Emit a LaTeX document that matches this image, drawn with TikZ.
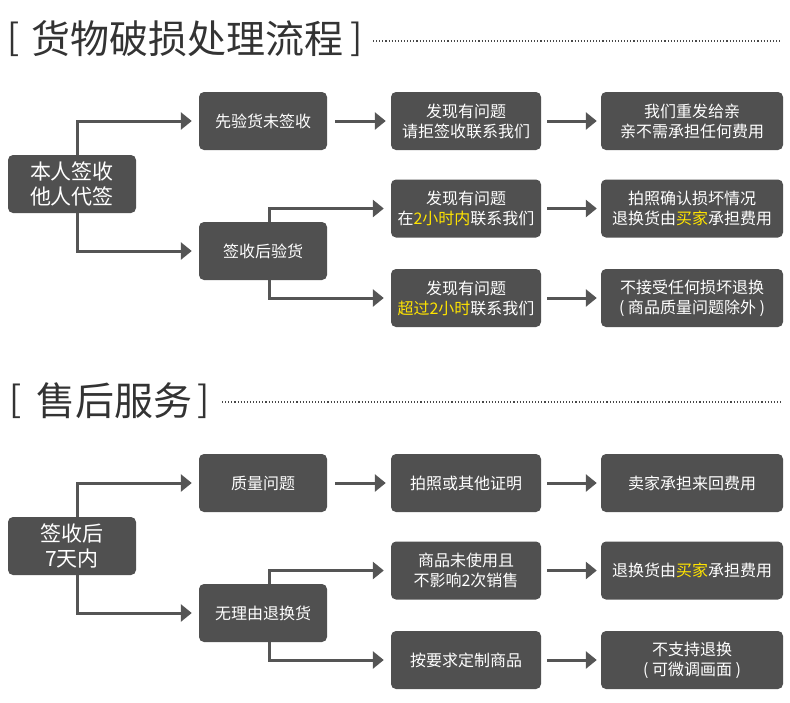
\documentclass[tikz,border=0pt]{standalone}
\usepackage{fontspec}
\setmainfont{Noto Sans CJK SC}
\usetikzlibrary{arrows.meta}
\definecolor{boxgray}{HTML}{505050}
\definecolor{linegray}{HTML}{555555}
\definecolor{hl}{HTML}{FFE400}
\definecolor{titlegray}{HTML}{333333}
\begin{document}
\begin{tikzpicture}[x=1pt,y=-1pt,
  box/.style={fill=boxgray, rounded corners=5pt, text=white, align=center,
    font=\fontsize{16}{20}\selectfont, inner sep=0pt, minimum height=58pt},
  lbox/.style={box, font=\fontsize{21}{25}\selectfont, minimum width=128pt},
  c2/.style={box, minimum width=128pt},
  c3/.style={box, minimum width=150pt},
  c4/.style={box, minimum width=182pt},
  arr/.style={draw=linegray, line width=3pt,
    -{Triangle[length=11pt,width=17pt]}},
  ttl/.style={text=titlegray, font=\fontsize{39}{44}\selectfont, inner sep=0pt},
  brk/.style={text=titlegray, font=\fontsize{36}{40}\selectfont, inner sep=0pt},
  dots/.style={draw=titlegray!90, line width=1.1pt, dash pattern=on 1.1pt off 2pt}
]
\useasboundingbox (0,0) rectangle (790,702);

% ---------- Section 1 ----------
\node[brk] (t1l) at (14,39) {[};
\node[ttl] (t1) at (187,39) {货物破损处理流程};
\node[brk] (t1r) at (357,39) {]};
\coordinate (d1s) at (373,41);
\coordinate (d1e) at (782,41);
\draw[dots] (d1s) -- (d1e);

\node[lbox] (L1) at (72,184) {本人签收\\他人代签};
\node[c2] (A1) at (263,121) {先验货未签收};
\node[c2] (B1) at (263,251) {签收后验货};
\node[c3] (A2) at (466,121) {发现有问题\\请拒签收联系我们};
\node[c3] (B2) at (466,208.5) {发现有问题\\在{\color{hl}2小时内}联系我们};
\node[c3] (C2) at (466,298) {发现有问题\\{\color{hl}超过2小时}联系我们};
\node[c4] (A3) at (692,121) {我们重发给亲\\亲不需承担任何费用};
\node[c4] (B3) at (692,208.5) {拍照确认损坏情况\\退换货由{\color{hl}买家}承担费用};
\node[c4] (C3) at (692,298) {不接受任何损坏退换\\( 商品质量问题除外 )};

\draw[arr] ([xshift=5pt]L1.north) |- ([xshift=-7pt]A1.west);
\draw[arr] ([xshift=5pt]L1.south) |- ([xshift=-7pt]B1.west);
\draw[arr] ([xshift=8pt]A1.east) -- ([xshift=-5pt]A2.west);
\draw[arr] ([xshift=6pt]B1.north) |- ([xshift=-7pt]B2.west);
\draw[arr] ([xshift=6pt]B1.south) |- ([xshift=-7pt]C2.west);
\draw[arr] ([xshift=6pt]A2.east) -- ([xshift=-4pt]A3.west);
\draw[arr] ([xshift=6pt]B2.east) -- ([xshift=-4pt]B3.west);
\draw[arr] ([xshift=6pt]C2.east) -- ([xshift=-4pt]C3.west);

% ---------- Section 2 ----------
\node[brk] (t2l) at (16,401) {[};
\node[ttl] (t2) at (114,401) {售后服务};
\node[brk] (t2r) at (204,401) {]};
\coordinate (d2s) at (222,402);
\coordinate (d2e) at (782,402);
\draw[dots] (d2s) -- (d2e);

\node[lbox] (L2) at (72,546) {签收后\\7天内};
\node[c2] (P1) at (263,483) {质量问题};
\node[c2] (Q1) at (263,613) {无理由退换货};
\node[c3] (P2) at (466,483) {拍照或其他证明};
\node[c3] (Q2) at (466,570.5) {商品未使用且\\不影响2次销售};
\node[c3] (R2) at (466,660) {按要求定制商品};
\node[c4] (P3) at (692,483) {卖家承担来回费用};
\node[c4] (Q3) at (692,570.5) {退换货由{\color{hl}买家}承担费用};
\node[c4] (R3) at (692,660) {不支持退换\\( 可微调画面 )};

\draw[arr] ([xshift=5pt]L2.north) |- ([xshift=-7pt]P1.west);
\draw[arr] ([xshift=5pt]L2.south) |- ([xshift=-7pt]Q1.west);
\draw[arr] ([xshift=8pt]P1.east) -- ([xshift=-5pt]P2.west);
\draw[arr] ([xshift=6pt]Q1.north) |- ([xshift=-7pt]Q2.west);
\draw[arr] ([xshift=6pt]Q1.south) |- ([xshift=-7pt]R2.west);
\draw[arr] ([xshift=6pt]P2.east) -- ([xshift=-4pt]P3.west);
\draw[arr] ([xshift=6pt]Q2.east) -- ([xshift=-4pt]Q3.west);
\draw[arr] ([xshift=6pt]R2.east) -- ([xshift=-4pt]R3.west);
\end{tikzpicture}
\end{document}
